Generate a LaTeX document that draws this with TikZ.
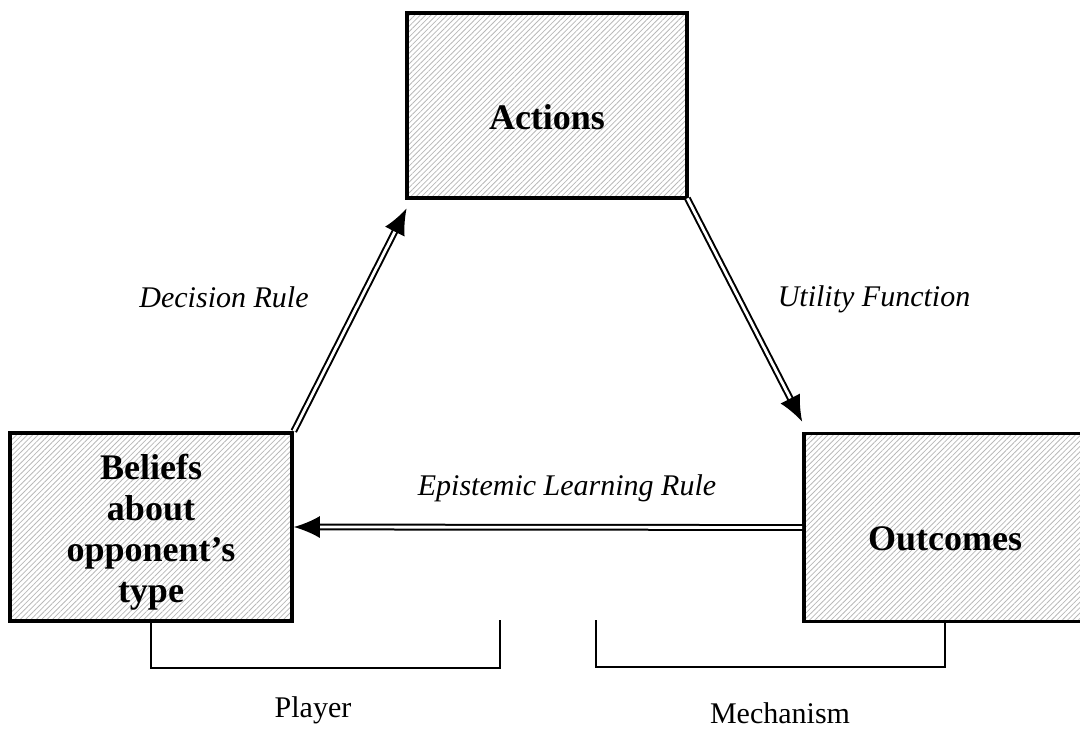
\documentclass[tikz,border=0pt]{standalone}
\usepackage{fontspec}
\setmainfont{Liberation Serif}
\usetikzlibrary{arrows.meta,patterns.meta}

\begin{document}
\begin{tikzpicture}[x=0.5pt,y=-0.5pt,
  box/.style={draw, line width=1.8pt, inner sep=0pt,
    pattern={Lines[angle=45,distance=1.9pt,line width=0.4pt]},
    pattern color=black!28, minimum width=141pt, minimum height=94pt},
  boxtext/.style={font=\fontsize{18}{20.5}\selectfont\bfseries, align=center},
  rulelabel/.style={font=\fontsize{15}{18}\selectfont\itshape, anchor=base},
  link/.style={double, line width=1pt, double distance=1.4pt,
    -{Latex[length=13pt,width=11pt]}},
  bracket/.style={line width=0.7pt},
  role/.style={font=\fontsize{15}{18}\selectfont, anchor=base}]
  \useasboundingbox (0,0) rectangle (1080,731);
  \clip (0,0) rectangle (1080,731);
  % Hatched boxes
  \node[box, minimum width=140pt, minimum height=92.5pt] (actions) at (547,105.5) {};
  \node[box] (beliefs) at (151,527) {};
  \node[box] (outcomes) at (945,527.5) {};
  % Box texts
  \node[boxtext, anchor=base] (actionsT) at (547,130) {Actions};
  \node[boxtext] (beliefsT) at (151,532) {Beliefs\\about\\opponent’s\\type};
  \node[boxtext, anchor=base] (outcomesT) at (945,550) {Outcomes};
  % Double arrows between the boxes
  \draw[link] (beliefs.north east) -- ([yshift=-5pt]actions.south west);
  \draw[link] (actions.south east) -- ([yshift=5pt]outcomes.north west);
  \draw[link] (outcomes.west) -- (beliefs.east);
  % Rule labels
  \node[rulelabel] (decision) at (224,308) {Decision Rule};
  \node[rulelabel] (utility) at (874,307) {Utility Function};
  \node[rulelabel] (epistemic) at (567,495) {Epistemic Learning Rule};
  % Brackets below
  \coordinate (playerR) at (500,620);
  \coordinate (mechL) at (596,620);
  \draw[bracket] (beliefs.south) -- ++(0,45) -| (playerR);
  \draw[bracket] (mechL) -- ++(0,47) -| (outcomes.south);
  % Bracket labels
  \node[role] (player) at (313,717) {Player};
  \node[role] (mechanism) at (780,723) {Mechanism};
\end{tikzpicture}
\end{document}
